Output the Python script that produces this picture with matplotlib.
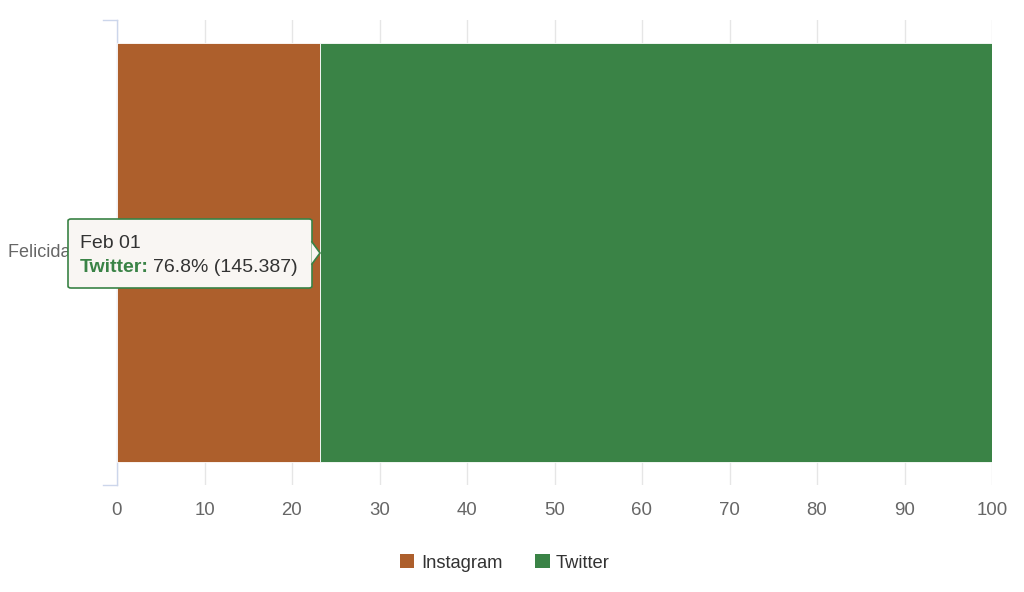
import matplotlib
matplotlib.use("Agg")
import matplotlib.pyplot as plt
from matplotlib.patches import FancyBboxPatch, Polygon, Rectangle
from matplotlib.lines import Line2D

plt.rcParams['font.family'] = ['Liberation Sans', 'DejaVu Sans']

categories = ["Felicidad 2"]
series_names = ["Instagram", "Twitter"]
instagram = [43.92]
twitter = [145.387]
colors = ["#AD5F2C", "#3A8346"]
x_ticks = [0, 10, 20, 30, 40, 50, 60, 70, 80, 90, 100]
tooltip_date = "Feb 01"

W, H = 1024, 592
fig = plt.figure(figsize=(W / 100, H / 100), dpi=100)
ax = fig.add_axes([117 / W, 1 - 485 / H, (992 - 117) / W, (485 - 20) / H])

totals = [a + b for a, b in zip(instagram, twitter)]
pct_ig = [a / t * 100 for a, t in zip(instagram, totals)]
pct_tw = [b / t * 100 for b, t in zip(twitter, totals)]
ypos = list(range(len(categories)))

ax.barh(ypos, pct_ig, height=0.9, color=colors[0], edgecolor="white", linewidth=0.6, zorder=3)
ax.barh(ypos, pct_tw, left=pct_ig, height=0.9, color=colors[1], edgecolor="white", linewidth=0.6, zorder=3)

ax.set_xlim(0, 100)
ax.set_ylim(-0.5, 0.5)
ax.set_xticks(x_ticks)
ax.set_xticklabels([str(t) for t in x_ticks], fontsize=13.4, color="#666666")
ax.tick_params(axis="x", length=0, pad=12)
ax.set_yticks([])
ax.grid(axis="x", color="#e6e6e6", linewidth=1, zorder=0)
for s in ["top", "right", "bottom"]:
    ax.spines[s].set_visible(False)
ax.spines["left"].set_color("#ccd6eb")
ax.spines["left"].set_linewidth(1)

# category boundary ticks on y axis
for yb in [-0.5, 0.5]:
    ax.add_line(Line2D([-14 / 875 * 100, 0], [yb, yb], color="#ccd6eb", linewidth=1, clip_on=False))

# category label
for i, c in enumerate(categories):
    ax.text(-21 / 875 * 100, ypos[i], c, ha="right", va="center", fontsize=13, color="#666666", zorder=1)

# legend
fig.legend(handles=[Rectangle((0, 0), 1, 1, facecolor=colors[0], edgecolor="none"),
                    Rectangle((0, 0), 1, 1, facecolor=colors[1], edgecolor="none")],
           labels=series_names, loc="center", bbox_to_anchor=(505 / W, 1 - 563 / H),
           ncol=2, frameon=False, fontsize=13.2, handlelength=0.78, handleheight=0.78,
           handletextpad=0.35, columnspacing=1.8, labelcolor="#333333")

# tooltip
def fx(px):
    return px / W

def fy(py):
    return 1 - py / H

box = FancyBboxPatch((fx(68), fy(288)), fx(312) - fx(68), fy(219) - fy(288),
                     boxstyle="round,pad=0,rounding_size=0.003", transform=fig.transFigure,
                     facecolor="#f9f6f3", edgecolor=colors[1], linewidth=1.2, zorder=10)
fig.add_artist(box)
ptr = Polygon([(fx(311.5), fy(242)), (fx(320), fy(253)), (fx(311.5), fy(264))], closed=True,
              transform=fig.transFigure, facecolor="#f9f6f3", edgecolor="none", zorder=11)
fig.add_artist(ptr)
fig.add_artist(Line2D([fx(312), fx(320), fx(312)], [fy(242), fy(253), fy(264)],
                      transform=fig.transFigure, color=colors[1], linewidth=1.2, zorder=12))
fig.text(fx(80), fy(243), tooltip_date, fontsize=14, color="#333333", va="center", ha="left", zorder=13)
t1 = fig.text(fx(80), fy(268), f"{series_names[1]}:", fontsize=14, color=colors[1],
              fontweight="bold", va="center", ha="left", zorder=13)
fig.canvas.draw()
bb = t1.get_window_extent()
fig.text((bb.x1 + 4) / W, fy(268), f"{pct_tw[0]:.1f}% ({twitter[0]:.3f})", fontsize=14,
         color="#333333", va="center", ha="left", zorder=13)

fig.savefig("out.png", dpi=100, facecolor="white")
